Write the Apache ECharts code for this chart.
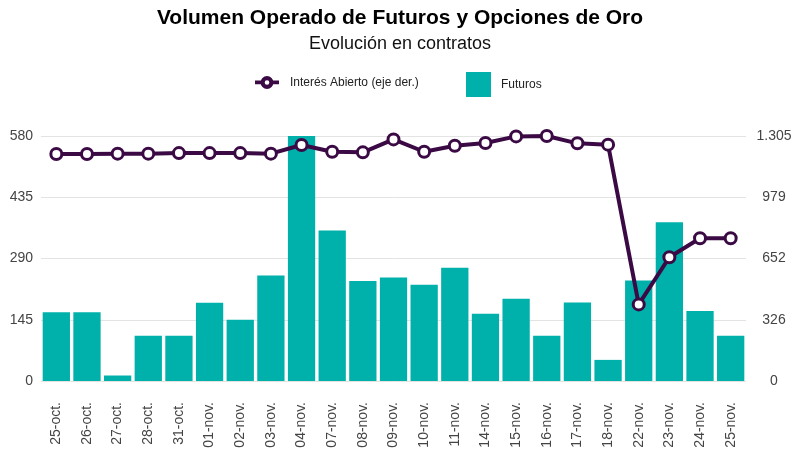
<!DOCTYPE html>
<html>
<head>
<meta charset="utf-8">
<script src="https://cdn.jsdelivr.net/npm/echarts@6/dist/echarts.min.js"></script>
<style>
  html, body { margin: 0; padding: 0; background: #fff; }
  #chart { width: 800px; height: 457px; }
</style>
</head>
<body>
<div id="chart"></div>
<script>
// fechas
var dias = ['25-oct.', '26-oct.', '27-oct.', '28-oct.', '31-oct.', '01-nov.', '02-nov.', '03-nov.',
  '04-nov.', '07-nov.', '08-nov.', '09-nov.', '10-nov.', '11-nov.', '14-nov.', '15-nov.',
  '16-nov.', '17-nov.', '18-nov.', '22-nov.', '23-nov.', '24-nov.', '25-nov.'];
// volumen futuros (eje izq.)
var futuros = [163, 163, 13, 107, 107, 185, 145, 250, 580, 356, 237, 245, 228, 268, 159, 195,
  107, 186, 50, 238, 376, 166, 107];
// interes abierto (eje der.)
var interesAbierto = [1209, 1209, 1211, 1211, 1214, 1214, 1214, 1211, 1257, 1221, 1218, 1287,
  1221, 1253, 1268, 1303, 1305, 1266, 1259, 408, 659, 760, 760];
var ticksIzq = ['0', '145', '290', '435', '580'];
var ticksDer = ['0', '326', '652', '979', '1.305'];

var colorLinea = '#3b0a45', colorBarra = '#00b0aa';
var fuente = 'Liberation Sans';
// icono de leyenda: linea gruesa con circulo hueco
var iconoLinea = 'path://M0,8 L7,8 L7,12 L0,12 Z M19,8 L26,8 L26,12 L19,12 Z ' +
  'M6,10 A7,7 0 1,1 20,10 A7,7 0 1,1 6,10 Z M10.5,10 A2.5,2.5 0 1,0 15.5,10 A2.5,2.5 0 1,0 10.5,10 Z';

var chart = echarts.init(document.getElementById('chart'));
chart.setOption({
  backgroundColor: '#fff',
  textStyle: { fontFamily: fuente },
  title: {
    text: 'Volumen Operado de Futuros y Opciones de Oro',
    subtext: 'Evolución en contratos',
    left: 'center',
    top: 3,
    padding: [5, 18, 5, 5],
    itemGap: 6,
    textStyle: { fontSize: 21, fontWeight: 'bold', color: '#000', fontFamily: fuente },
    subtextStyle: { fontSize: 18, color: '#111', fontFamily: fuente }
  },
  legend: [{
    top: 76,
    left: 255,
    padding: 0,
    itemWidth: 24,
    itemHeight: 17,
    textStyle: { fontSize: 12, color: '#222', fontFamily: fuente, padding: [0, 0, 0, 6] },
    data: [{ name: 'Interés Abierto (eje der.)', icon: iconoLinea, itemStyle: { color: colorLinea, borderWidth: 0 } }]
  }, {
    top: 72,
    left: 466,
    padding: 0,
    itemWidth: 25,
    itemHeight: 25,
    textStyle: { fontSize: 12, color: '#222', fontFamily: fuente, padding: [0, 0, 0, 5] },
    data: [{ name: 'Futuros', icon: 'rect' }]
  }],
  grid: { left: 41, right: 54, top: 136, bottom: 76 },
  xAxis: {
    type: 'category',
    data: dias,
    axisLine: { show: false },
    axisTick: { show: false },
    axisLabel: { rotate: 90, fontSize: 14, color: '#444', margin: 21, interval: 0 }
  },
  yAxis: [{
    type: 'value',
    min: 0,
    max: 580,
    interval: 145,
    axisLabel: {
      fontSize: 14, color: '#444', margin: 8,
      formatter: function (v, i) { return ticksIzq[i]; }
    },
    splitLine: { lineStyle: { color: '#e3e3e3', width: 1 } }
  }, {
    type: 'value',
    min: 0,
    max: 1305,
    interval: 326.25,
    position: 'right',
    axisLabel: {
      fontSize: 14, color: '#444', margin: 28, align: 'center',
      formatter: function (v, i) { return ticksDer[i]; }
    },
    splitLine: { show: false }
  }],
  series: [{
    name: 'Futuros',
    type: 'bar',
    data: futuros,
    barCategoryGap: '11%',
    itemStyle: { color: colorBarra },
    z: 1
  }, {
    name: 'Interés Abierto (eje der.)',
    type: 'line',
    yAxisIndex: 1,
    data: interesAbierto,
    symbol: 'circle',
    symbolSize: 11,
    lineStyle: { color: colorLinea, width: 4 },
    itemStyle: { color: '#fff', borderColor: colorLinea, borderWidth: 3 },
    z: 3
  }]
});
</script>
</body>
</html>
